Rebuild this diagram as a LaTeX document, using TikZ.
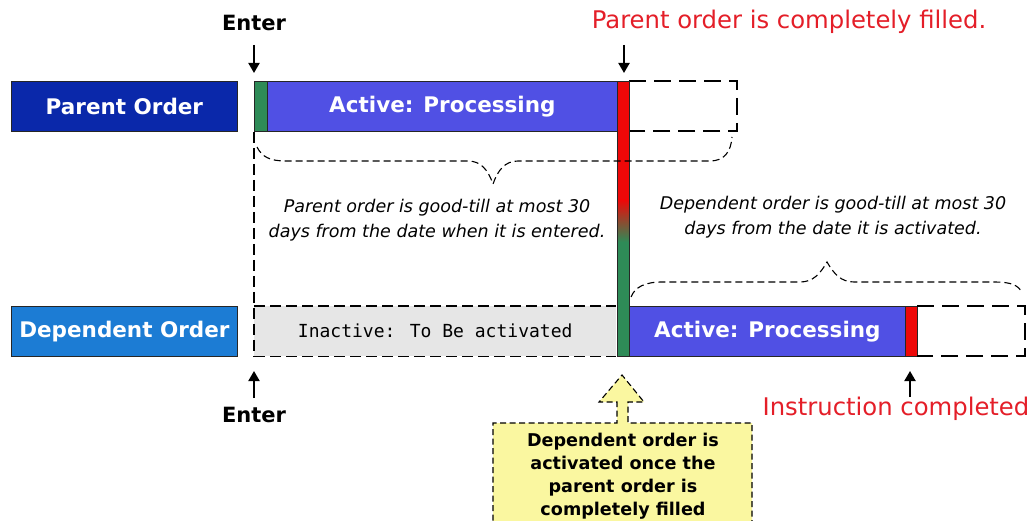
\documentclass[tikz,border=0pt]{standalone}
\usepackage{fontspec}
\setmainfont{DejaVu Sans}
\newfontfamily\monof{DejaVu Sans Mono}
\usetikzlibrary{arrows.meta}
\definecolor{pblue}{RGB}{10,40,170}
\definecolor{dblue}{RGB}{28,124,212}
\definecolor{violet1}{RGB}{80,80,228}
\definecolor{grn}{RGB}{46,139,87}
\definecolor{rd}{RGB}{238,8,8}
\definecolor{txtred}{RGB}{228,30,40}
\definecolor{gry}{RGB}{230,230,230}
\definecolor{yel}{RGB}{250,247,160}
\begin{document}
\begin{tikzpicture}[x=1pt,y=-1pt,
  bar/.style={draw=black!85, line width=0.8pt, inner sep=0pt, minimum height=50pt, anchor=north west},
  btxt/.style={text=white, font=\bfseries\fontsize{21.5}{24}\selectfont},
  dsh/.style={dash pattern=on 17pt off 8pt, line width=1.1pt},
  dshs/.style={dash pattern=on 11pt off 5pt, line width=1.1pt},
  brc/.style={dash pattern=on 7pt off 4pt, line width=1.1pt},
  arr/.style={line width=2pt, -{Triangle[width=11pt,length=10pt]}},
  enter/.style={font=\bfseries\fontsize{21}{24}\selectfont},
  redlbl/.style={text=txtred, font=\fontsize{24.3}{28}\selectfont},
  note/.style={font=\itshape\fontsize{17.5}{25.5}\selectfont, align=center},
]
\useasboundingbox[fill=white] (0,0) rectangle (1030,521);

% ---------- parent row ----------
\node[bar, fill=pblue, minimum width=226pt, btxt] (parent) at (11,81) {Parent Order};
\node[bar, fill=grn, minimum width=13pt] (pgreen) at (254,81) {};
\node[bar, fill=violet1, minimum width=350pt, btxt] (pact) at (267,81) {Active: Processing};

% parent dashed extension
\coordinate (pe1) at (629,81);
\coordinate (pe2) at (737,81);
\coordinate (pe3) at (737,131);
\coordinate (pe4) at (629,131);
\draw[dsh] (pe1) -- (pe2) -- (pe3) -- (pe4);

% ---------- dependent row ----------
\node[bar, fill=dblue, minimum width=226pt, btxt] (dep) at (11,306) {Dependent Order};
\node[inner sep=0pt, minimum width=362pt, minimum height=50pt, anchor=north west, fill=gry,
      font=\monof\fontsize{18}{22}\selectfont] (inact) at (254,306) {Inactive: To Be activated};
\draw[dshs] (inact.north west) -- (inact.north east);
\draw[dshs] (inact.south west) -- (inact.south east);
\draw[dshs] (pgreen.south west) -- (inact.south west);

\node[bar, fill=violet1, minimum width=276pt, btxt] (dact) at (629,306) {Active: Processing};
\node[bar, fill=rd, minimum width=12pt] (dred) at (905,306) {};
\coordinate (de1) at (917,306);
\coordinate (de2) at (1025,306);
\coordinate (de3) at (1025,356);
\coordinate (de4) at (917,356);
\draw[dsh] (de1) -- (de2) -- (de3) -- (de4);

% ---------- transition bar ----------
\fill[rd] (617,81) rectangle (629,200);
\shade[top color=rd, bottom color=grn] (617,200) rectangle (629,242);
\fill[grn] (617,242) rectangle (629,356);
\node[draw=black!85, line width=0.8pt, inner sep=0pt, minimum width=12pt, minimum height=275pt,
      anchor=north west] (tbar) at (617,81) {};

% ---------- braces ----------
\draw[brc] (257,147) .. controls (262,157) and (270,161) .. (286,161)
  -- (468,161) .. controls (481,161) and (488,170) .. (493,184)
  .. controls (498,170) and (505,161) .. (518,161)
  -- (710,161) .. controls (724,161) and (731,152) .. (732,137);
\draw[brc] (631,297) .. controls (635,287) and (645,282) .. (662,282)
  -- (800,282) .. controls (813,282) and (820,274) .. (827,262)
  .. controls (834,274) and (841,282) .. (854,282)
  -- (995,282) .. controls (1010,282) and (1019,285) .. (1022,293);

% ---------- notes ----------
\node[note] (pnote) at (437,220) {Parent order is good-till at most 30\\days from the date when it is entered.};
\node[note] (dnote) at (833,217) {Dependent order is good-till at most 30\\days from the date it is activated.};

% ---------- labels and arrows ----------
\node[enter] (enter1) at (254,23) {Enter};
\coordinate (a1s) at (254,45);
\coordinate (a1e) at (254,73);
\draw[arr] (a1s) -- (a1e);

\node[redlbl] (filled) at (789,22) {Parent order is completely filled.};
\coordinate (a2s) at (624,45);
\coordinate (a2e) at (624,73);
\draw[arr] (a2s) -- (a2e);

\node[enter] (enter2) at (254,415) {Enter};
\coordinate (a3s) at (254,398);
\coordinate (a3e) at (254,371);
\draw[arr] (a3s) -- (a3e);

\node[redlbl] (instr) at (896,409) {Instruction completed};
\coordinate (a4s) at (910,397);
\coordinate (a4e) at (910,371);
\draw[arr] (a4s) -- (a4e);

% ---------- yellow callout ----------
\fill[yel] (493,530) -- (493,423) -- (617,423) -- (617,402) -- (599,402) -- (622,375)
  -- (644,402) -- (628,402) -- (628,423) -- (752,423) -- (752,530) -- cycle;
\draw[dash pattern=on 6pt off 3.5pt, line width=1.1pt] (493,530) -- (493,423) -- (617,423) -- (617,402) -- (599,402) -- (622,375)
  -- (644,402) -- (628,402) -- (628,423) -- (752,423) -- (752,530);
\node[font=\bfseries\fontsize{17.6}{23}\selectfont, align=center] (callout) at (623,476)
  {Dependent order is\\activated once the\\parent order is\\completely filled};
\end{tikzpicture}
\end{document}
